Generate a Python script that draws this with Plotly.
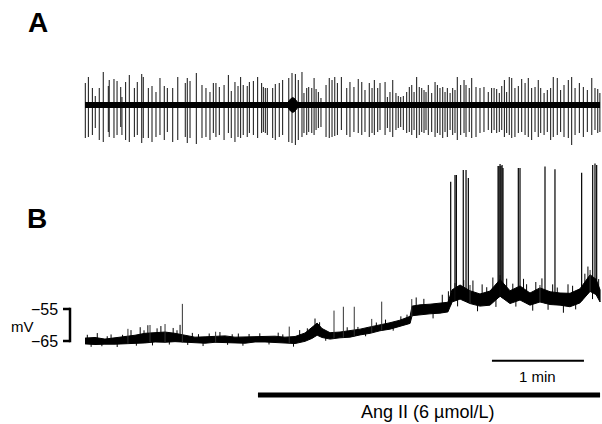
import numpy as np
import plotly.graph_objects as go

# ---------------- Panel A : extracellular spikes (time in s, amplitude in a.u.)
A_t = [0.2, 2.2, 4.8, 6.7, 9.3, 11.9, 15.2, 15.8, 18.9, 20.9,
       23.3, 24.1, 26.5, 28.9, 32.2, 34.1, 37.0, 38.0, 41.3, 43.7,
       46.3, 48.9, 51.7, 53.7, 57.2, 60.5, 65.4, 66.7, 68.5, 72.6,
       76.3, 78.9, 81.5, 83.7, 85.4, 87.6, 90.7, 93.5, 95.4, 97.8,
       99.8, 101.5, 103.2, 105.8, 107.2, 109.8, 112.6, 115.2, 116.3, 117.6,
       118.9, 122.4, 124.1, 126.7, 128.9, 132.9, 135.0, 137.2, 139.1, 141.5,
       142.8, 144.6, 145.9, 147.9, 149.4, 150.7, 152.2, 153.9, 157.2, 159.3,
       161.1, 162.9, 164.6, 167.2, 170.7, 172.8, 175.4, 178.2, 180.5, 182.6,
       185.4, 187.2, 188.7, 190.9, 192.4, 195.7, 197.2, 198.9, 200.7, 202.8,
       204.3, 205.9, 207.6, 209.8, 211.5, 213.1, 214.6, 216.3, 218.0, 219.6,
       221.1, 222.4, 223.9, 226.1, 228.3, 229.8, 231.5, 233.3, 234.8, 236.3,
       238.1, 239.8, 241.3, 242.8, 245.0, 247.2, 248.5, 250.6, 252.2, 255.0,
       257.6, 260.2, 263.0, 265.2, 266.8, 268.5, 270.2, 271.8, 273.5, 275.0,
       276.7, 278.3, 280.4, 282.6, 284.8, 287.0, 289.1, 291.3, 293.5, 295.6,
       297.2, 299.4, 301.5, 303.7, 305.4, 308.0, 310.2, 312.4, 315.2, 317.4,
       319.6, 322.4, 325.0, 327.6, 330.5, 332.6, 334.4, 335.8]
A_up = [22, 28, 17, 9, 17, 33, 19, 25, 26, 24, 18, 8, 23, 30, 17, 23, 31, 28, 17, 19,
        13, 27, 19, 17, 17, 28, 22, 27, 24, 32, 20, 17, 13, 22,
        22, 18, 20, 30, 14, 23, 19, 28, 20, 19, 23, 24, 28, 22, 18, 17, 17, 17, 21, 22,
        25, 27, 32, 31, 25, 33, 12, 17, 18, 17, 27, 16, 13, 7, 20, 27, 25, 28, 22,
        28, 17, 23, 18, 26, 23, 15, 22, 17, 25, 17, 22, 23, 8, 13, 25, 12, 9, 8, 9,
        13, 18, 20, 13, 28, 18, 17, 15, 13, 20, 12, 23, 20, 17, 18, 13, 17, 12, 17, 15,
        28, 20, 25, 20, 17,
        27, 18, 17, 18, 13, 17, 17, 16, 12, 19, 25, 13, 28, 27, 17, 19, 26, 22, 27, 17,
        18, 25, 17, 12, 15, 17, 28, 27, 15, 20, 25, 28, 17, 22, 18, 15, 27, 17, 16, 12]
A_dn = [33, 32, 30, 23, 35, 37, 27, 32, 33, 30, 22, 30, 35, 37, 32, 30, 38, 33, 33, 37,
        32, 30, 35, 27, 37, 35, 32, 38, 33, 39, 33, 32, 35, 28,
        32, 30, 35, 28, 33, 37, 32, 33, 30, 32, 28, 30, 33, 28, 27, 28, 30, 33, 35, 32,
        30, 37, 38, 40, 35, 32, 28, 30, 27, 28, 30, 25, 23, 22, 32, 33, 32, 31, 30,
        25, 30, 32, 27, 28, 30, 27, 32, 28, 30, 27, 25, 30, 23, 27, 32, 25, 23, 22, 25,
        28, 27, 30, 25, 33, 30, 27, 28, 25, 30, 27, 32, 28, 30, 33, 27, 32, 25, 30, 28,
        35, 30, 28, 32, 27,
        33, 32, 28, 27, 25, 28, 25, 28, 27, 25, 32, 28, 30, 33, 32, 28, 27, 30, 32, 35,
        27, 32, 28, 30, 27, 35, 32, 30, 27, 32, 33, 40, 30, 28, 32, 27, 30, 25, 28, 27]
A_end = 335.9
A_blob_t = [132.5, 134.0, 135.5, 137.0, 138.5]
A_blob_hw = [3, 6, 7.5, 6, 3]

# ---------------- Panel B : membrane potential (time in s, mV)
B_t = [0, 6.5, 13.0, 19.6, 26.1, 32.6, 39.1, 45.7, 52.2, 58.7,
       65.2, 71.7, 78.3, 84.8, 91.3, 97.8, 104.4, 110.9, 117.4, 123.9,
       130.4, 137.0, 143.5, 148.0, 151.4, 154.6, 159.8, 166.3, 172.8, 179.4,
       185.9, 192.4, 198.9, 205.4, 212.0, 213.3, 218.5, 225.0, 231.5, 236.7,
       239.4, 244.6, 251.1, 257.6, 264.1, 270.7, 277.2, 283.7, 290.2, 296.7,
       303.3, 309.8, 316.3, 322.8, 329.4, 333.3, 335.9]
B_mid = [-65.0, -65.0, -65.2, -65.0, -64.8, -64.5, -64.1, -63.9, -63.8, -63.9,
         -64.4, -64.7, -64.7, -64.5, -64.5, -64.7, -64.7, -64.5, -64.4, -64.5,
         -64.7, -64.7, -63.8, -62.5, -61.3, -62.5, -63.4, -63.1, -62.8, -62.2,
         -61.6, -60.9, -60.3, -59.4, -58.4, -55.6, -55.3, -55.0, -54.7, -54.4,
         -50.9, -49.7, -51.3, -52.2, -51.6, -48.4, -51.3, -50.0, -51.9, -50.6,
         -51.6, -51.9, -52.2, -50.9, -46.9, -48.1, -50.9]
B_hw = [0.9, 1.1, 0.8, 1.0, 1.1, 1.3, 1.5, 1.4, 1.6, 1.3,
        1.1, 0.9, 1.0, 0.9, 1.1, 0.9, 1.0, 0.8, 0.9, 1.0,
        0.9, 1.1, 1.3, 1.7, 1.9, 1.4, 1.0, 0.9, 1.0, 0.9,
        1.0, 0.9, 1.0, 0.9, 1.1, 1.5, 1.6, 1.5, 1.6, 1.5,
        1.9, 2.2, 2.0, 1.9, 2.2, 2.6, 2.0, 2.2, 1.9, 2.2,
        2.0, 1.9, 2.1, 2.2, 2.6, 2.4, 1.9]
# short noise excursions beyond the band (mV; + above, - below)
B_tick_t = [1.5, 4, 8, 11, 14.5, 17, 21, 24.5, 30, 33.5,
            36, 38.5, 41, 44, 47, 49.5, 55, 57.5, 60, 62,
            67, 70, 74, 77, 81, 88, 93, 96, 100, 103,
            107, 114, 120, 126, 129, 136, 140, 145, 150, 153,
            157, 171, 178, 183, 190, 196, 201, 206, 210, 216,
            221, 227, 233, 237, 243, 247, 253, 256, 259, 262,
            266, 268, 275, 279, 281, 286, 288, 292, 294, 298,
            302, 305, 308, 312, 315, 318, 320, 326, 328, 331,
            335]
B_tick_dv = [1.0, -0.8, 1.5, -0.6, 0.8, 1.2, -0.9, 0.7, 1.8, -0.7,
             2.2, 1.0, 2.5, -1.0, 1.4, 2.0, -0.8, 1.6, 1.1, 3.0,
             -0.7, 1.2, 0.9, -0.9, 1.0, 1.3, -0.6, 0.8, 1.1, -0.8,
             0.9, 1.0, -0.7, 1.2, 0.8, -1.0, 1.5, 0.9, 2.0, 1.1,
             -0.8, 1.2, 0.8, -0.7, 1.0, 1.3, -0.8, 1.1, 0.9, 2.5,
             1.8, -1.5, 2.5, 3.0, -2.0, 2.2, 3.5, -1.8, 2.8, 1.5,
             3.2, -2.2, 2.6, 1.8, -1.6, 3.0, 2.0, -2.0, 2.5, 3.2,
             -1.8, 2.4, 1.6, -2.2, 2.8, 2.0, -1.5, 2.6, 3.5, -2.0,
             2.2]
B_small_t = [28.0, 42.4, 52.2, 63.5, 85.2, 133.2, 162.4, 168.5, 175.6, 187.0,
             193.5, 213.1, 241.3, 251.1, 270.7, 296.7, 329.4]
B_small_top = [-61.2, -60.0, -59.7, -53.4, -62.1, -60.5, -55.5, -54.3, -54.3, -58.1,
               -52.7, -51.9, -46.9, -47.5, -44.4, -47.5, -42.8]
B_ap_t = [238.5, 241.3, 242.2, 246.7, 248.5, 250.0, 269.4, 270.0, 270.7, 271.3,
          272.0, 272.6, 282.6, 283.7, 300.0, 306.5, 323.9, 331.1, 332.6, 333.7]
B_ap_top = [-15.2, -13.1, -13.1, -11.6, -11.6, -14.1, -10.3, -10.3, -9.7, -10.3,
            -10.0, -10.9, -10.9, -10.9, -10.5, -11.3, -12.4, -10.0, -9.5, -10.0]

ANG_START, ANG_END = 112.8, 335.9
SCALE_START, SCALE_LEN = 265.4, 60.0

FONT = "Liberation Sans, Arial, sans-serif"
W, H = 602, 424

fig = go.Figure()

# Panel A
ax, ay = [], []
for t, u, d in zip(A_t, A_up, A_dn):
    ax += [t, t, None]
    ay += [u, -d, None]
fig.add_trace(go.Scatter(x=ax, y=ay, mode="lines", yaxis="y2",
                         line=dict(color="#111", width=1), hoverinfo="skip"))
fig.add_trace(go.Scatter(x=[0, A_end], y=[0, 0], mode="lines", yaxis="y2",
                         line=dict(color="black", width=6), hoverinfo="skip"))
fig.add_trace(go.Scatter(x=A_blob_t + A_blob_t[::-1],
                         y=A_blob_hw + [-v for v in A_blob_hw[::-1]],
                         mode="lines", fill="toself", fillcolor="black", yaxis="y2",
                         line=dict(color="black", width=1), hoverinfo="skip"))

# Panel B
mid = np.array(B_mid)
hw = np.array(B_hw)
upper = list(mid + hw)
lower = list(mid - hw)
fig.add_trace(go.Scatter(x=B_t + B_t[::-1], y=upper + lower[::-1],
                         mode="lines", fill="toself", fillcolor="black",
                         line=dict(color="black", width=1), hoverinfo="skip"))

# noise ticks
tx_, ty_ = [], []
for t, dv in zip(B_tick_t, B_tick_dv):
    m = float(np.interp(t, B_t, mid))
    h = float(np.interp(t, B_t, hw))
    edge = m + h if dv > 0 else m - h
    tx_ += [t, t, None]
    ty_ += [m, edge + dv, None]
fig.add_trace(go.Scatter(x=tx_, y=ty_, mode="lines",
                         line=dict(color="black", width=1), hoverinfo="skip"))


def spikes(ts, tops):
    xs, ys = [], []
    foot = np.interp(ts, B_t, mid - hw)
    for t, top, f in zip(ts, tops, foot):
        xs += [t, t, None]
        ys += [f, top, None]
    return xs, ys


sx, sy = spikes(B_small_t, B_small_top)
fig.add_trace(go.Scatter(x=sx, y=sy, mode="lines",
                         line=dict(color="#333", width=1), hoverinfo="skip"))
px_, py_ = spikes(B_ap_t, B_ap_top)
fig.add_trace(go.Scatter(x=px_, y=py_, mode="lines",
                         line=dict(color="black", width=1.2), hoverinfo="skip"))

# x range: pixel 0..602 ; 85 px -> t=0, 92 px per minute
sec_per_px = 60 / 92
x0 = -85 * sec_per_px
x1 = (W - 85) * sec_per_px
# y (mV): pixel 341 -> -65, 3.2 px per mV
ytop = -65 + 341 / 3.2
ybot = -65 - (H - 341) / 3.2

shapes = []
bx = 70 / W
tx = 63 / W
lw = dict(color="black", width=2.5)
shapes.append(dict(type="line", xref="paper", yref="y", x0=bx, x1=bx, y0=-65.4, y1=-54.6, line=lw))
shapes.append(dict(type="line", xref="paper", yref="y", x0=tx, x1=bx, y0=-55, y1=-55, line=lw))
shapes.append(dict(type="line", xref="paper", yref="y", x0=tx, x1=bx, y0=-65, y1=-65, line=lw))
shapes.append(dict(type="line", xref="x", yref="paper", x0=SCALE_START, x1=SCALE_START + SCALE_LEN,
                   y0=1 - 360.7 / H, y1=1 - 360.7 / H, line=dict(color="black", width=2)))
shapes.append(dict(type="line", xref="x", yref="paper", x0=ANG_START, x1=ANG_END,
                   y0=1 - 395 / H, y1=1 - 395 / H, line=dict(color="black", width=5)))

ann = [
    dict(text="<b>A</b>", x=38 / W, y=1 - 22 / H, size=28),
    dict(text="<b>B</b>", x=37 / W, y=1 - 218 / H, size=28),
    dict(text="mV", x=22 / W, y=1 - 326 / H, size=15),
    dict(text="1 min", x=None, y=1 - 376 / H, size=15),
    dict(text="Ang II (6 µmol/L)", x=427 / W, y=1 - 412 / H, size=18),
]
annotations = []
for a in ann:
    if a["x"] is None:
        annotations.append(dict(text=a["text"], xref="x", yref="paper",
                                x=SCALE_START + SCALE_LEN / 2, y=a["y"],
                                showarrow=False, xanchor="center", yanchor="middle",
                                font=dict(family=FONT, size=a["size"], color="black")))
    else:
        annotations.append(dict(text=a["text"], xref="paper", yref="paper", x=a["x"], y=a["y"],
                                showarrow=False, xanchor="center", yanchor="middle",
                                font=dict(family=FONT, size=a["size"], color="black")))
for v in (-55, -65):
    annotations.append(dict(text="\u2212" + str(abs(v)), xref="paper", yref="y", x=60 / W, y=v,
                            showarrow=False, xanchor="right", yanchor="middle",
                            font=dict(family=FONT, size=16, color="black")))

fig.update_layout(
    width=W, height=H, margin=dict(l=0, r=0, t=0, b=0),
    paper_bgcolor="white", plot_bgcolor="white", showlegend=False,
    xaxis=dict(range=[x0, x1], visible=False, fixedrange=True),
    yaxis=dict(range=[ybot, ytop], visible=False, fixedrange=True),
    yaxis2=dict(range=[105 - H, 105], visible=False, overlaying="y", fixedrange=True),
    shapes=shapes, annotations=annotations,
)

fig.write_html("out.html", config={"displayModeBar": False, "staticPlot": True},
               post_script="document.body.style.margin='0';")
